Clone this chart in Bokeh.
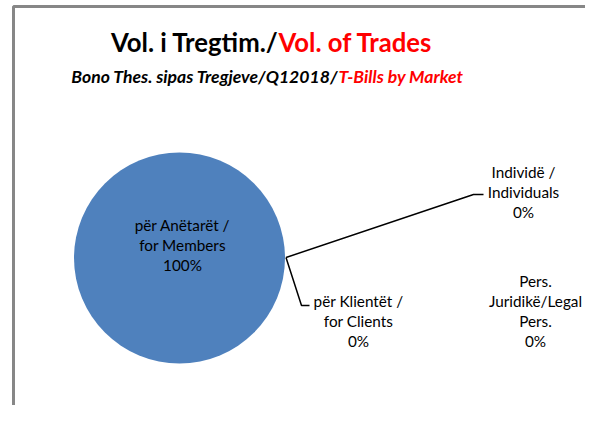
import numpy as np
from bokeh.plotting import figure
from bokeh.models import Range1d
from bokeh.core.properties import value
from bokeh.embed import file_html
from bokeh.resources import INLINE

# ---- data ----
categories = ["për Anëtarët /\nfor Members", "për Klientët /\nfor Clients",
              "Individë /\nIndividuals", "Pers.\nJuridikë/Legal\nPers."]
shares = [100, 0, 0, 0]
slice_colors = ["#4F81BD", "#C0504D", "#9BBB59", "#8064A2"]
title_black = "Vol. i Tregtim./"
title_red = "Vol. of Trades"
sub_black = "Bono Thes. sipas Tregjeve/Q12018/"
sub_red = "T-Bills by Market"

# ---- layout (screen pixel coordinates) ----
W, H = 585, 405
p = figure(width=W, height=H, output_backend="svg", toolbar_location=None,
           x_range=Range1d(0, W), y_range=Range1d(H, 0), min_border=0,
           background_fill_color="white", border_fill_color="white")
p.axis.visible = False
p.grid.visible = False
p.outline_line_color = None

FONT = "Lato"

# chart border (top and left visible)
p.line([13, 13, 601], [421, 6, 6], line_color="#878787", line_width=3)

# titles
p.text([278], [41], text=[title_black], text_align="right", text_baseline="middle",
       text_font=value(FONT), text_font_style="bold", text_font_size="25.7px", text_color="black")
p.text([278], [41], text=[title_red], text_align="left", text_baseline="middle",
       text_font=value(FONT), text_font_style="bold", text_font_size="25.7px", text_color="#FF0000")
p.text([338], [76], text=[sub_black], text_align="right", text_baseline="middle",
       text_font=value(FONT), text_font_style="bold italic", text_font_size="17.6px", text_color="black")
p.text([338], [76], text=[sub_red], text_align="left", text_baseline="middle",
       text_font=value(FONT), text_font_style="bold italic", text_font_size="17.6px", text_color="#FF0000")

# pie
cx, cy, r = 179, 257.5, 105.5
total = float(sum(shares))
fr = np.array(shares, dtype=float) / total
ends = np.cumsum(fr) * 2 * np.pi
starts = np.concatenate([[0.0], ends[:-1]])
for i in range(len(shares)):
    if fr[i] <= 0:
        continue
    if fr[i] >= 0.999999:
        # full circle drawn as two halves for robustness
        p.wedge(x=cx, y=cy, radius=r, start_angle=starts[i], end_angle=starts[i] + np.pi,
                fill_color=slice_colors[i], line_color=None)
        p.wedge(x=cx, y=cy, radius=r, start_angle=starts[i] + np.pi, end_angle=ends[i],
                fill_color=slice_colors[i], line_color=None)
    else:
        p.wedge(x=cx, y=cy, radius=r, start_angle=starts[i], end_angle=ends[i],
                fill_color=slice_colors[i], line_color=None)

# leader lines from the pie edge
ex, ey = cx + r + 1, 257
p.line([ex, 473, 483], [ey, 194, 194], line_color="black", line_width=1.5)
p.line([ex, 301, 309], [ey, 305, 305], line_color="black", line_width=1.5)

# data labels
label_pos = [(182, 224), (358, 300), (523, 171), (535, 280)]
lx, ly, lt = [], [], []
for cat, share, (x0, y0) in zip(categories, shares, label_pos):
    lines = cat.split("\n") + [f"{share:.0f}%"]
    for k, t in enumerate(lines):
        lx.append(x0)
        ly.append(y0 + 20.3 * k)
        lt.append(t)
p.text(lx, ly, text=lt, text_align="center", text_baseline="middle",
       text_font=value(FONT), text_font_size="15.3px", text_color="black")

open("out.html", "w").write(file_html(p, INLINE))
